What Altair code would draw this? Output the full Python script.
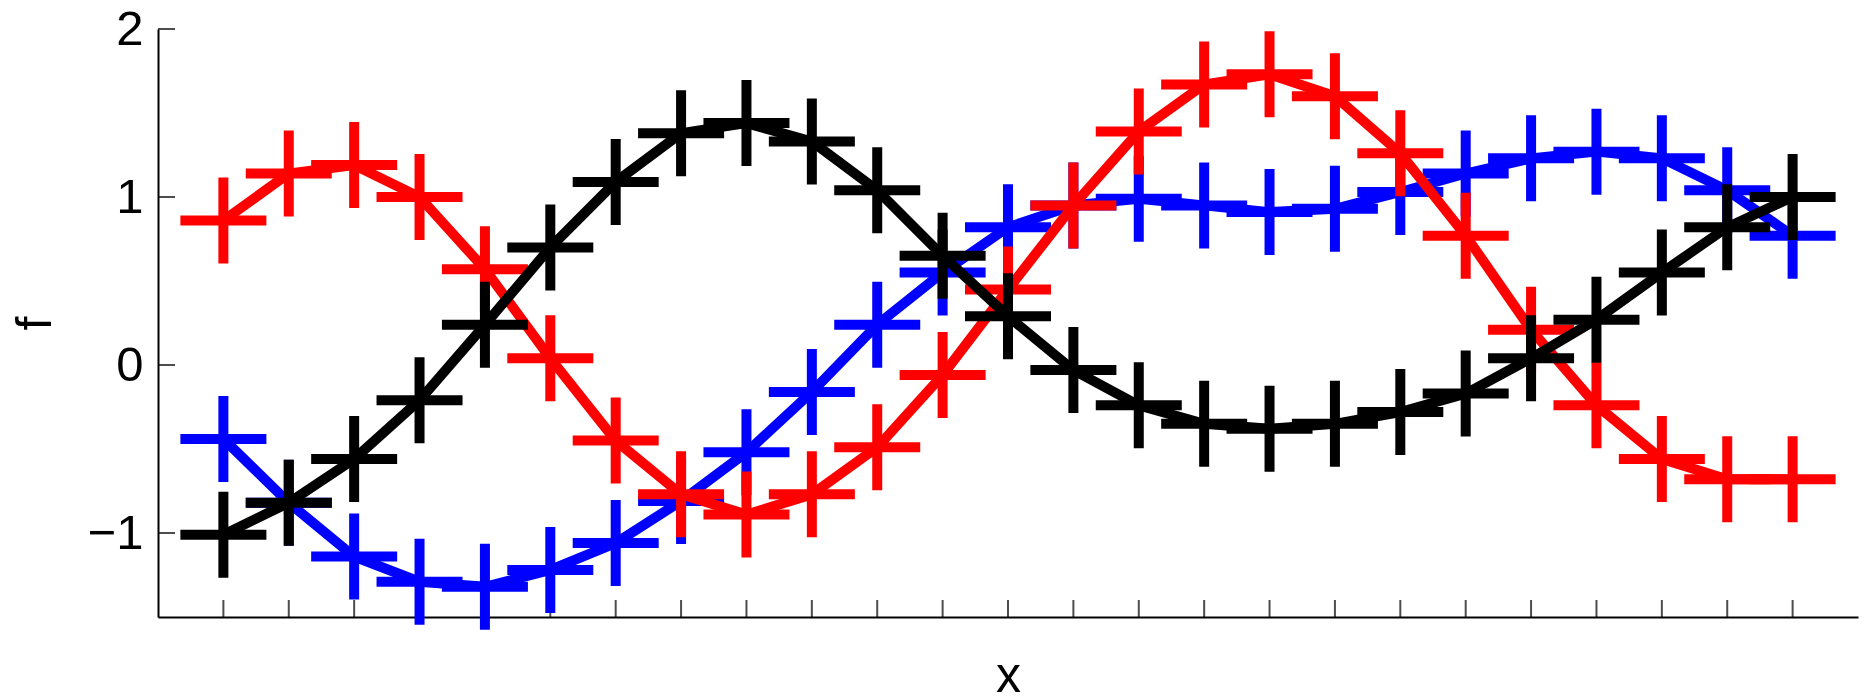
import altair as alt
import pandas as pd

xs = list(range(1, 26))
red = [0.86, 1.14, 1.19, 1.00, 0.57, 0.04, -0.45, -0.77, -0.89, -0.77, -0.49, -0.06,
       0.45, 0.95, 1.39, 1.67, 1.73, 1.60, 1.26, 0.77, 0.21, -0.24, -0.56, -0.68, -0.68]
blue = [-0.44, -0.82, -1.14, -1.29, -1.32, -1.22, -1.06, -0.81, -0.52, -0.16, 0.24, 0.55,
        0.82, 0.95, 0.99, 0.95, 0.91, 0.93, 1.03, 1.14, 1.23, 1.27, 1.23, 1.04, 0.77]
black = [-1.01, -0.82, -0.56, -0.21, 0.24, 0.70, 1.09, 1.38, 1.44, 1.33, 1.04, 0.65,
         0.29, -0.03, -0.24, -0.35, -0.38, -0.35, -0.28, -0.17, 0.04, 0.27, 0.55, 0.82, 1.00]

series = [("blue", blue, "#0000ff"), ("red", red, "#ff0000"), ("black", black, "#000000")]

x_ticks = list(range(1, 26))
y_ticks = [-1, 0, 1, 2]

FONT = "Liberation Sans"

xscale = alt.Scale(domain=[0, 26], nice=False, zero=False)
yscale = alt.Scale(domain=[-1.5, 2], nice=False, zero=False)

xaxis = alt.Axis(title="x", ticks=False, labels=False, grid=False, domain=True,
                 domainColor="black", domainWidth=2, titleFont=FONT, titleFontSize=50,
                 titleFontWeight="normal", titleColor="black", titleBaseline="alphabetic",
                 titleX=850, titleY=74)
yaxis = alt.Axis(title="f", ticks=False, values=y_ticks, grid=False, domain=True,
                 domainColor="black", domainWidth=2, labelFont=FONT, labelFontSize=49,
                 labelColor="black", labelPadding=15, format="d",
                 titleFont=FONT, titleFontSize=50, titleFontWeight="normal",
                 titleColor="black", titleBaseline="alphabetic", titleAngle=-90,
                 titleX=-108, titleY=294)

layers = []
tick_x_df = pd.DataFrame({"x": x_ticks, "y": [-1.5] * len(x_ticks)})
tick_y_df = pd.DataFrame({"x": [0] * len(y_ticks), "y": y_ticks})

base = alt.Chart(tick_x_df).mark_tick(orient="vertical", size=17, thickness=2,
                                      color="black", yOffset=-8.5).encode(
    x=alt.X("x:Q", scale=xscale, axis=xaxis),
    y=alt.Y("y:Q", scale=yscale, axis=yaxis),
)
layers.append(base)
ytk = alt.Chart(tick_y_df).mark_tick(orient="horizontal", size=17, thickness=2,
                                     color="black", xOffset=8.5).encode(
    x=alt.X("x:Q", scale=xscale),
    y=alt.Y("y:Q", scale=yscale),
)
layers.append(ytk)

cross = "M-1,0H1M0,-1V1"
for name, vals, col in series:
    df = pd.DataFrame({"x": xs, "y": vals})
    line = alt.Chart(df).mark_line(color=col, strokeWidth=10, strokeJoin="miter",
                                   strokeCap="butt").encode(
        x=alt.X("x:Q", scale=xscale), y=alt.Y("y:Q", scale=yscale))
    pts = alt.Chart(df).mark_point(shape=cross, size=86 * 86, filled=False, stroke=col,
                                   strokeWidth=10, opacity=1, strokeCap="butt").encode(
        x=alt.X("x:Q", scale=xscale), y=alt.Y("y:Q", scale=yscale))
    layers.append(line)
    layers.append(pts)

chart = alt.layer(*layers).properties(
    width=1700, height=588,
    background="white",
    autosize=alt.AutoSizeParams(type="none"),
    padding={"left": 158, "top": 29, "right": 12, "bottom": 79},
).configure_view(stroke="transparent", strokeWidth=0)

chart.save("out.html", embed_options={"renderer": "svg", "actions": False})
